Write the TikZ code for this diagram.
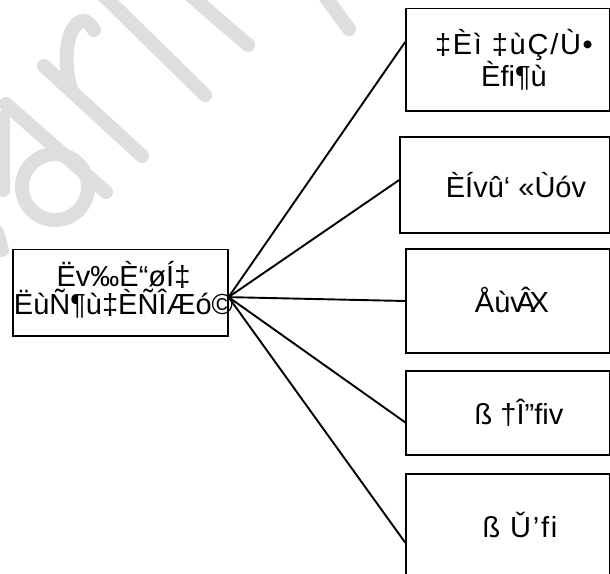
\documentclass[tikz,border=0pt]{standalone}
\usepackage{fontspec}
\setmainfont{Liberation Sans}
\usetikzlibrary{calc}
\begin{document}
\begin{tikzpicture}[x=1pt,y=-1pt,
  frame/.style={draw=black, line width=1.7pt, fill=white, inner sep=0pt},
  caption/.style={font=\fontsize{29}{#1}\selectfont, align=center, inner sep=0pt},
  caption/.default=26,
  link/.style={draw=black, line width=1.9pt},
  wmark/.style={draw=black!13, line width=14pt, line cap=round, line join=round}]

\useasboundingbox (0,0) rectangle (610,573);

% faint background lettering
\begin{scope}
  \clip (0,0) rectangle (610,573);
  \draw[wmark] (3,117) -- (3,190);
  \draw[wmark] (-3,232) -- (2,250);
  \draw[wmark] (6,104) -- (106,192);
  \draw[wmark] (55,187) circle[radius=33];
  \draw[wmark] (44,66) -- (142,156);
  \draw[wmark] (72,92) .. controls (62,65) and (66,25) .. (82,21) .. controls (87,20) and (91,25) .. (94,30);
  \draw[wmark] (100,-8) -- (205,95);
  \draw[wmark] (190,-5) -- (248,45);
  \draw[wmark] (322,-8) -- (349,29);
\end{scope}

% central box
\node[frame, minimum width=215pt, minimum height=86.7pt] (hubbox) at (120.2,292.7) {};
\node[caption=25] (hubtext) at (123.5,290) {Ëv‰È“øÍ‡\\ËùÑ¶ù‡ÈÑÎÆó©};

% branch boxes
\node[frame, minimum width=203.5pt, minimum height=102.7pt] (b1) at (507.8,59.7) {};
\node[frame, minimum width=209.5pt, minimum height=96.3pt] (b2) at (504.8,184.9) {};
\node[frame, minimum width=203.5pt, minimum height=103.4pt] (b3) at (507.8,301) {};
\node[frame, minimum width=203.5pt, minimum height=84.3pt] (b4) at (507.8,412.9) {};
\node[frame, minimum width=203.5pt, minimum height=102pt] (b5) at (507.8,525) {};

\node[caption=29] (t1) at (514,60) {{\addfontfeature{LetterSpace=6}‡Èì ‡ùÇ/Ù•}\\Èfi¶ù};
\node[caption] (t2) at (516,185) {ÈÍvû‘ «Ùóv};
\node[caption] (t3) at (512,300) {Åùv\kern-0.3em Â\kern-0.2em X};
\node[caption] (t4) at (519,413) {ß †Î”fiv};
\node[caption] (t5) at (520,525) {{\addfontfeature{LetterSpace=6}ß Ǔ’fi}};

% connectors
\coordinate (hub) at ($(hubbox.north east)!0.55!(hubbox.south east)$);
\draw[link] (hub) -- ($(b1.north west)!0.33!(b1.south west)$);
\draw[link] (hub) -- ($(b2.north west)!0.45!(b2.south west)$);
\draw[link] (hub) -- ($(b3.north west)!0.5!(b3.south west)$);
\draw[link] (hub) -- ($(b4.north west)!0.61!(b4.south west)$);
\draw[link] (hub) -- ($(b5.north west)!0.67!(b5.south west)$);
\end{tikzpicture}
\end{document}
